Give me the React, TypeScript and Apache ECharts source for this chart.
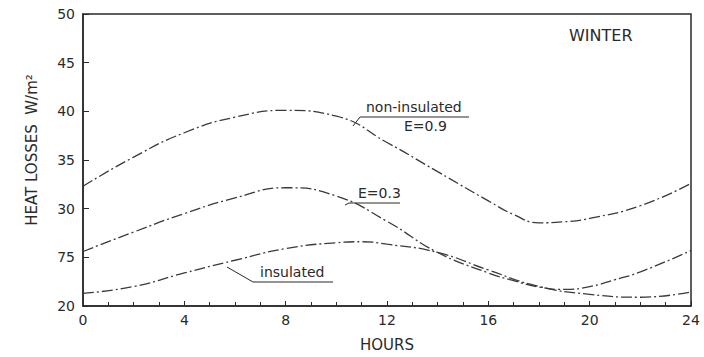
import React, { useEffect, useRef } from "react";
import * as echarts from "echarts";

const nonInsHours = [0, 2, 4, 6, 8, 10, 12, 14, 16, 17, 18, 19, 20, 22, 24];
const nonInsulated = [32.3, 35.3, 37.8, 39.4, 40.1, 39.5, 36.8, 33.8, 30.8, 29.4, 28.55, 28.65, 29.0, 30.3, 32.6];
const e03Hours = [0, 2, 4, 6, 8, 10, 12, 14, 16, 17, 18, 19, 20, 21, 22, 24];
const e03 = [25.6, 27.6, 29.5, 31.1, 32.15, 31.3, 28.7, 25.5, 23.4, 22.6, 21.95, 21.7, 22.0, 22.7, 23.5, 25.7];
const insulatedHours = [0, 2, 4, 6, 8, 10, 11, 12, 14, 16, 18, 20, 22, 24];
const insulated = [21.3, 22.0, 23.4, 24.7, 25.9, 26.5, 26.6, 26.35, 25.5, 23.7, 22.0, 21.2, 20.9, 21.45];
const yTickLabels: Record<number, string> = { 20: "20", 25: "75", 30: "30", 35: "35", 40: "40", 45: "45", 50: "50" };

const FONT = "DejaVu Sans";
const INK = "#2a2a2a";
const LINE = "#3a3a3a";

const lineSeries = (name: string, xs: number[], ys: number[]) => ({
  name,
  type: "line",
  smooth: 0.5,
  symbol: "none",
  data: xs.map((x, i) => [x, ys[i]]),
  lineStyle: { color: LINE, width: 1.3, type: [11, 3, 2, 3] },
});

export default function App() {
  const ref = useRef<HTMLDivElement>(null);
  useEffect(() => {
    if (!ref.current) return;
    const chart = echarts.init(ref.current, null, { renderer: "svg" });
    chart.setOption({
      animation: false,
      backgroundColor: "#ffffff",
      grid: { left: 83, right: 13, top: 14, bottom: 46, show: true, borderColor: INK, borderWidth: 1.5 },
      xAxis: {
        type: "value",
        min: 0,
        max: 24,
        interval: 4,
        name: "HOURS",
        nameLocation: "middle",
        nameGap: 31,
        nameTextStyle: { fontFamily: FONT, fontSize: 15, color: INK },
        axisLine: { lineStyle: { color: INK, width: 1.5 } },
        axisTick: { inside: true, length: 5, lineStyle: { color: INK } },
        minorTick: { show: true, splitNumber: 4, length: 4, lineStyle: { color: INK } },
        splitLine: { show: false },
        axisLabel: { fontFamily: FONT, fontSize: 14, color: INK, margin: 7 },
      },
      yAxis: {
        type: "value",
        min: 20,
        max: 50,
        interval: 5,
        axisLine: { show: true, lineStyle: { color: INK, width: 1.5 } },
        axisTick: { show: true, inside: true, length: 6, lineStyle: { color: INK } },
        splitLine: { show: false },
        axisLabel: {
          fontFamily: FONT,
          fontSize: 14,
          color: INK,
          margin: 8,
          formatter: (v: number) => yTickLabels[v] ?? String(v),
        },
      },
      series: [
        lineSeries("non-insulated E=0.9", nonInsHours, nonInsulated),
        lineSeries("E=0.3", e03Hours, e03),
        lineSeries("insulated", insulatedHours, insulated),
      ],
      graphic: [
        {
          type: "text",
          x: 32,
          y: 150,
          rotation: Math.PI / 2,
          style: { text: "HEAT LOSSES  W/m²", font: `15px "${FONT}"`, fill: INK, align: "center", verticalAlign: "middle" },
        },
        { type: "text", left: 569, top: 27, style: { text: "WINTER", font: `16px "${FONT}"`, fill: INK } },
        { type: "text", left: 366, top: 100, style: { text: "non-insulated", font: `14px "${FONT}"`, fill: INK } },
        { type: "polyline", shape: { points: [[353, 126], [360, 117], [469, 117]] }, style: { stroke: INK, lineWidth: 1, fill: "none" } },
        { type: "text", left: 404, top: 119, style: { text: "E=0.9", font: `14px "${FONT}"`, fill: INK } },
        { type: "text", left: 358, top: 186, style: { text: "E=0.3", font: `14px "${FONT}"`, fill: INK } },
        { type: "polyline", shape: { points: [[345, 205], [349, 203], [400, 203]] }, style: { stroke: INK, lineWidth: 1, fill: "none" } },
        { type: "text", left: 260, top: 265, style: { text: "insulated", font: `14px "${FONT}"`, fill: INK } },
        { type: "polyline", shape: { points: [[227, 267], [253, 282], [333, 282]] }, style: { stroke: INK, lineWidth: 1, fill: "none" } },
      ],
    });
    return () => chart.dispose();
  }, []);
  return <div ref={ref} style={{ width: 704, height: 357, position: "absolute", left: 0, top: 0 }} />;
}
